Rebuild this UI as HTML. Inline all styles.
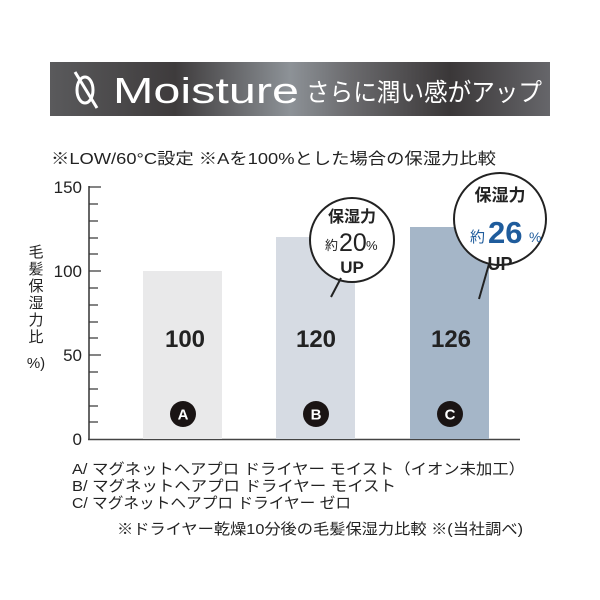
<!DOCTYPE html>
<html><head><meta charset="utf-8"><style>
html,body{margin:0;padding:0;background:#fff;width:600px;height:600px;overflow:hidden}
text{font-family:"Liberation Sans","Noto Sans CJK JP",sans-serif}
</style></head><body>
<svg width="600" height="600" viewBox="0 0 600 600" xmlns="http://www.w3.org/2000/svg">
<defs>
<linearGradient id="bg" x1="0" x2="1" y1="0" y2="0">
<stop offset="0" stop-color="#5a5a5c"/>
<stop offset="0.25" stop-color="#3e3b3c"/>
<stop offset="0.48" stop-color="#8d9297"/>
<stop offset="0.6" stop-color="#6b6b6e"/>
<stop offset="0.8" stop-color="#3a3738"/>
<stop offset="1" stop-color="#66666a"/>
</linearGradient>
</defs>
<rect x="50" y="62" width="500" height="54" fill="url(#bg)"/>
<ellipse cx="85" cy="90" rx="8" ry="13" fill="none" stroke="#fff" stroke-width="3"/>
<line x1="75" y1="72" x2="97" y2="108" stroke="#fff" stroke-width="3"/>
<text x="113" y="103" font-size="36" fill="#fff" font-weight="500" textLength="186" lengthAdjust="spacingAndGlyphs">Moisture</text>
<text x="306" y="101" font-size="25" fill="#fff" textLength="236" lengthAdjust="spacingAndGlyphs">さらに潤い感がアップ</text>
<text x="51" y="164" font-size="16" fill="#222" textLength="445" lengthAdjust="spacingAndGlyphs">※LOW/60°C設定  ※Aを100%とした場合の保湿力比較</text>
<line x1="89" y1="186" x2="89" y2="440" stroke="#333" stroke-width="1.5"/>
<line x1="88" y1="439.5" x2="520" y2="439.5" stroke="#444" stroke-width="1.5"/>
<g stroke="#333" stroke-width="1.2">
<line x1="89" y1="187" x2="101" y2="187"/><line x1="89" y1="271" x2="101" y2="271"/><line x1="89" y1="355" x2="101" y2="355"/>
<line x1="89" y1="204" x2="98" y2="204"/><line x1="89" y1="221" x2="98" y2="221"/><line x1="89" y1="238" x2="98" y2="238"/><line x1="89" y1="254" x2="98" y2="254"/>
<line x1="89" y1="288" x2="98" y2="288"/><line x1="89" y1="305" x2="98" y2="305"/><line x1="89" y1="322" x2="98" y2="322"/><line x1="89" y1="338" x2="98" y2="338"/>
<line x1="89" y1="372" x2="98" y2="372"/><line x1="89" y1="389" x2="98" y2="389"/><line x1="89" y1="406" x2="98" y2="406"/><line x1="89" y1="422" x2="98" y2="422"/>
</g>
<g font-size="17" fill="#222" text-anchor="end">
<text x="82" y="193">150</text><text x="82" y="277">100</text><text x="82" y="361">50</text><text x="82" y="445">0</text>
</g>
<g font-size="15" fill="#222" text-anchor="middle">
<text x="36" y="257">毛</text><text x="36" y="274">髪</text><text x="36" y="291">保</text><text x="36" y="308">湿</text><text x="36" y="325">力</text><text x="36" y="342">比</text><text x="36" y="368">%)</text>
</g>
<rect x="143" y="271" width="79" height="168" fill="#e9e9ea"/>
<rect x="276" y="237" width="79" height="202" fill="#d6dbe3"/>
<rect x="410" y="227" width="79" height="212" fill="#a5b6c8"/>
<g font-size="24" font-weight="bold" fill="#222" text-anchor="middle">
<text x="185" y="347">100</text><text x="316" y="347">120</text><text x="451" y="347">126</text>
</g>
<g fill="#1a1414"><circle cx="183" cy="414" r="13"/><circle cx="316" cy="414" r="13"/><circle cx="450" cy="414" r="13"/></g>
<g font-size="15" font-weight="bold" fill="#fff" text-anchor="middle">
<text x="183" y="419.5">A</text><text x="316" y="419.5">B</text><text x="450" y="419.5">C</text>
</g>
<circle cx="352" cy="240" r="42" fill="#fff" stroke="#222" stroke-width="2"/>
<line x1="341" y1="278" x2="331" y2="297" stroke="#222" stroke-width="2"/>
<text x="352" y="222" font-size="16" font-weight="bold" fill="#222" text-anchor="middle">保湿力</text>
<text x="325" y="250" font-size="13" fill="#222">約</text>
<text x="339" y="251" font-size="25" fill="#222">20</text>
<text x="366" y="250" font-size="13" fill="#222">%</text>
<text x="352" y="273" font-size="17" font-weight="bold" fill="#222" text-anchor="middle">UP</text>
<circle cx="500" cy="219" r="46" fill="#fff" stroke="#222" stroke-width="2"/>
<line x1="489" y1="264" x2="479" y2="299" stroke="#222" stroke-width="2"/>
<text x="500" y="201" font-size="17" font-weight="bold" fill="#222" text-anchor="middle">保湿力</text>
<text x="470" y="242" font-size="15" fill="#1f5c9c">約</text>
<text x="488" y="243" font-size="31" font-weight="bold" fill="#1f5c9c">26</text>
<text x="529" y="242" font-size="14" fill="#1f5c9c">%</text>
<text x="500" y="270" font-size="18" font-weight="bold" fill="#222" text-anchor="middle">UP</text>
<g font-size="15" fill="#222">
<text x="72" y="474" textLength="453" lengthAdjust="spacingAndGlyphs">A/ マグネットヘアプロ ドライヤー モイスト（イオン未加工）</text>
<text x="72" y="491" textLength="324" lengthAdjust="spacingAndGlyphs">B/ マグネットヘアプロ ドライヤー モイスト</text>
<text x="72" y="508" textLength="279" lengthAdjust="spacingAndGlyphs">C/ マグネットヘアプロ ドライヤー ゼロ</text>
<text x="117" y="534" textLength="406" lengthAdjust="spacingAndGlyphs">※ドライヤー乾燥10分後の毛髪保湿力比較  ※(当社調べ)</text>
</g>
</svg>
</body></html>
